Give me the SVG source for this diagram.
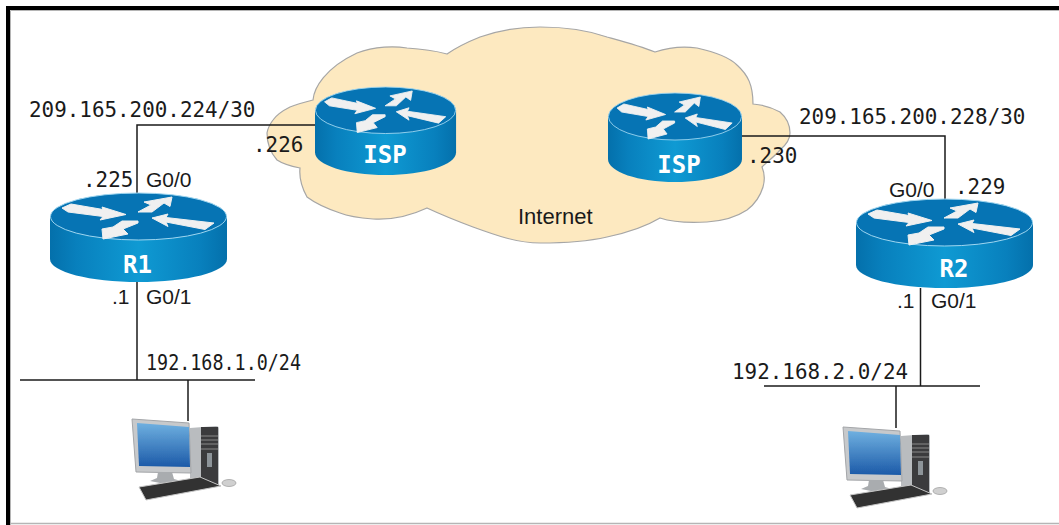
<svg xmlns="http://www.w3.org/2000/svg" width="1059" height="525" viewBox="0 0 1059 525">
<style>
.lbl{font-family:"DejaVu Sans Mono",monospace;font-size:20.9px;fill:#1a1a1a}
.if{font-family:"Liberation Sans",Arial,sans-serif;font-size:21px;fill:#1a1a1a}
.rn{font-family:"DejaVu Sans Mono",monospace;font-weight:bold;font-size:24px;fill:#fff;text-anchor:middle}
.wire{fill:none;stroke:#1a1a1a;stroke-width:1.5}
</style>
<defs>
<filter id="soft" x="-5%" y="-5%" width="110%" height="110%"><feGaussianBlur stdDeviation=".5"/></filter>
<linearGradient id="side" x1="0" x2="1" y1="0" y2="0">
<stop offset="0" stop-color="#0470ab"/><stop offset=".15" stop-color="#0880bd"/><stop offset=".5" stop-color="#0f9ad3"/><stop offset=".85" stop-color="#0880bd"/><stop offset="1" stop-color="#0470ab"/>
</linearGradient>
<linearGradient id="scr" x1="0" x2="0" y1="0" y2="1"><stop offset="0" stop-color="#6fb0e0"/><stop offset="1" stop-color="#1c5aa8"/></linearGradient>
<g id="router">
<path d="M0 23.500V66C0 79 40 89 88.500 89S177 79 177 66V23.500Z" fill="url(#side)"/>
<ellipse cx="88.500" cy="23.500" rx="88" ry="23.500" fill="#0674b4" stroke="#9fd6f0" stroke-width="1"/>
<g fill="#f0f0f0" stroke="#f0f0f0" stroke-width="1" stroke-linejoin="round">
<path d="M12 15L21 11L53 16.500L52 14L76 21.500L50 27L53 23.500L18 19Z"/>
<path d="M88 19L101 12L94 9L122 4L120 13.500L114 10L102 19Z"/>
<path d="M102 25L118 21L116 24.500L164 30L155 36.500L116 29L118 33.500Z"/>
<path d="M88 28L72 28L63 34L52 36L53 46L78 41L73 36L88 30Z"/>
</g>
</g>
<g id="pc" filter="url(#soft)">
<path d="M190 428L216 426Q219 426 219 429V485L190 489Z" fill="#b9bcbf"/>
<path d="M201 427L218 427V485L201 487Z" fill="#3a3a3c"/>
<path d="M201 436H218M201 440H218M201 444H218M201 449H218" stroke="#8a8a8a" stroke-width="1"/>
<rect x="207" y="453" width="5" height="14" fill="#8d9499"/>
<path d="M132 419L189 423L191 473L136 472Z" fill="#c7c9cb" stroke="#a3a5a8" stroke-width="1"/>
<path d="M137 423L189 427L190 467L139 466Z" fill="url(#scr)"/>
<path d="M158 472H172L174 479L181 481Q172 484 160 483L150 481L157 478Z" fill="#a9acaf"/>
<path d="M139 487L200 477L221 486L146 500Z" fill="#333" stroke="#c5c5c5" stroke-width="1"/>
<ellipse cx="229" cy="483" rx="7" ry="3.500" fill="#d0d0d0" stroke="#999" stroke-width=".7"/>
</g>
</defs>
<rect width="1059" height="525" fill="#fff"/>
<path d="M8 525V8H1059" fill="none" stroke="#000" stroke-width="4"/>
<path d="M10.500 525V10.500H1059" fill="none" stroke="#b5b5b5" stroke-width="1"/>
<path d="M10 523.500H1059" fill="none" stroke="#b5b5b5" stroke-width="1.500"/>
<g id="cloud">
<path d="M313 100C314 88 325 68 357 53C375 46 395 46 407 48C424 49 436 51 447 54C460 45 470 41 480 37C500 30 520 27 540 27C565 27 590 31 607 37C625 42 640 46 655 52C670 47 684 46 697 48C715 52 730 58 737 65C748 75 753 85 753 104C765 105 773 108 780 112C787 118 790 125 790 133C790 140 786 145 780 150C775 156 768 161 762 167C765 174 765 180 763 187C760 197 755 204 747 210C735 218 722 221 707 222C690 223 672 222 660 218C645 227 626 233 607 237C585 242 562 243 540 243C517 243 495 235 473 227C457 221 442 215 427 208C410 216 390 220 373 219C360 218 350 217 340 213C325 208 315 203 307 197C302 188 299 178 300 168C290 166 283 164 277 160C270 152 267 142 267 133C268 127 270 124 273 120C278 113 284 110 290 107C297 104 305 102 313 100Z" fill="#fde9c0" stroke="#a6a6a6" stroke-width="1.200"/>
<text x="518" y="224" font-family="'Liberation Sans',Arial,sans-serif" font-size="22" fill="#1a1a1a">Internet</text>
</g>
<g id="connectors">
<path class="wire" d="M315 125H137V194"/>
<path class="wire" d="M137 282V380"/>
<path class="wire" d="M20 380H255"/>
<path class="wire" d="M188 380V421"/>
<path class="wire" d="M740 136H945V200"/>
<path class="wire" d="M920.500 288V386"/>
<path class="wire" d="M764 386H980"/>
<path class="wire" d="M896 386V428"/>
</g>
<g id="R1"><use href="#router" x="50" y="193"/><text class="rn" x="137.500" y="273">R1</text></g>
<g id="R2"><use href="#router" x="856" y="199"/><text class="rn" x="954" y="277">R2</text></g>
<g id="ISP1"><use href="#router" transform="translate(315 87) scale(.797 .99)"/><text class="rn" x="385" y="163">ISP</text></g>
<g id="ISP2"><use href="#router" transform="translate(608 93) scale(.757 1)"/><text class="rn" x="679" y="173">ISP</text></g>
<g id="PC1"><use href="#pc"/></g>
<g id="PC2"><use href="#pc" x="711" y="8"/></g>
<g id="labels">
<text class="lbl" x="29" y="117">209.165.200.224/30</text>
<text class="lbl" x="799" y="124">209.165.200.228/30</text>
<text class="lbl" x="253" y="152">.226</text>
<text class="lbl" x="747" y="163">.230</text>
<text class="lbl" x="83" y="187">.225</text>
<text class="if" x="146" y="187">G0/0</text>
<text class="if" x="889" y="197">G0/0</text>
<text class="lbl" x="955" y="194">.229</text>
<text class="if" x="112" y="304">.1</text>
<text class="if" x="146" y="304">G0/1</text>
<text class="if" x="897" y="308">.1</text>
<text class="if" x="931" y="308">G0/1</text>
<text class="lbl" x="146" y="370" textLength="155" lengthAdjust="spacingAndGlyphs">192.168.1.0/24</text>
<text class="lbl" x="732" y="379">192.168.2.0/24</text>
</g>
</svg>
